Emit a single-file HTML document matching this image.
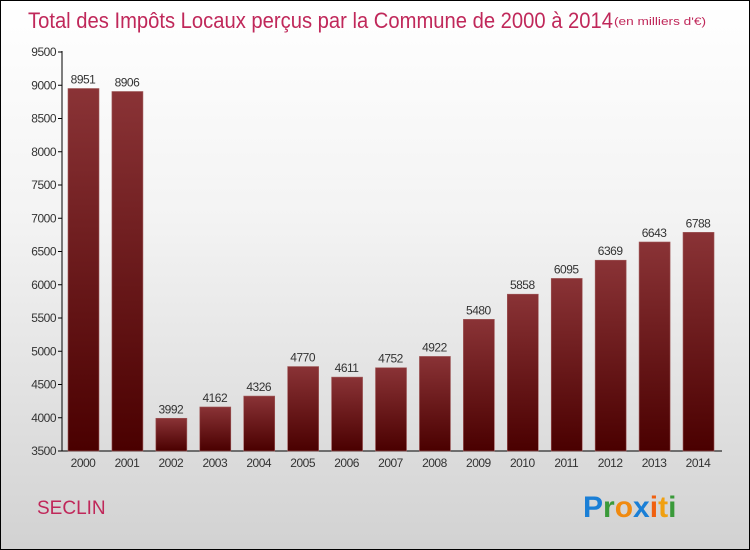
<!DOCTYPE html>
<html><head><meta charset="utf-8"><style>
body{margin:0}
#wrap{position:relative;width:748px;height:548px;border:1px solid #000;background:linear-gradient(#fff,#f3f3f3 40%,#d2d2d2);font-family:"Liberation Sans",sans-serif;overflow:hidden}
</style></head><body>
<div id="wrap">
<svg id="svg" width="748" height="548" style="position:absolute;left:0;top:0">
<text x="27" y="27" font-size="22" fill="#c0285a" textLength="585" lengthAdjust="spacingAndGlyphs">Total des Impôts Locaux perçus par la Commune de 2000 à 2014</text>
<text x="613" y="24" font-size="11" fill="#c0285a" textLength="92" lengthAdjust="spacingAndGlyphs">(en milliers d'€)</text>
<text x="36" y="513" font-size="19" fill="#c0285a">SECLIN</text>
<g font-size="30" font-weight="bold" font-family="'Liberation Sans',sans-serif">
<text x="582" y="516"><tspan fill="#1a7fd6">P</tspan><tspan fill="#3a9a3a">r</tspan><tspan fill="#f08a10">o</tspan><tspan fill="#1a7fd6">x</tspan><tspan fill="#f06010">i</tspan><tspan fill="#f0a010">t</tspan><tspan fill="#3a9a3a">i</tspan></text>
</g>
<defs><linearGradient id="bg" x1="0" y1="0" x2="0" y2="1"><stop offset="0" stop-color="#8a3336"/><stop offset="1" stop-color="#4a0000"/></linearGradient></defs>
<g id="plot"></g>
</svg>
</div>
<script>
const years=["2000","2001","2002","2003","2004","2005","2006","2007","2008","2009","2010","2011","2012","2013","2014"];
const values=[8951,8906,3992,4162,4326,4770,4611,4752,4922,5480,5858,6095,6369,6643,6788];
const ticks=[3500,4000,4500,5000,5500,6000,6500,7000,7500,8000,8500,9000,9500];
const NS="http://www.w3.org/2000/svg";
const g=document.getElementById('plot');
const y=v=>450-(v-3500)*(399/6000);
const x=i=>82+i*43.93;
function el(t,a){const e=document.createElementNS(NS,t);for(const k in a)e.setAttribute(k,a[k]);g.appendChild(e);return e;}
const ax=el('line',{x1:61,y1:50,x2:61,y2:450,stroke:'#000'});


const xa=el('line',{x1:61,y1:450,x2:721,y2:450,stroke:'#000'});


ticks.forEach(t=>{
 const l=el('line',{x1:57,y1:y(t),x2:61,y2:y(t),stroke:'#000'});
 
 
 const tx=el('text',{x:55,y:y(t)+4,'font-size':12,fill:'#333','text-anchor':'end','letter-spacing':'-0.5'});
 tx.textContent=t;
 
 
});
values.forEach((v,i)=>{
 const r=el('rect',{x:x(i)-15,y:y(v),width:31,height:450-y(v),fill:'url(#bg)',stroke:'#a05a5a','stroke-width':0.6});
 
 
 const vl=el('text',{x:x(i),y:y(v)-5,'font-size':12,fill:'#333','text-anchor':'middle','letter-spacing':'-0.5'});
 vl.textContent=v;
 
 
 const xl=el('text',{x:x(i),y:466,'font-size':12,fill:'#333','text-anchor':'middle','letter-spacing':'-0.5'});
 xl.textContent=years[i];
 
 
});
</script>
</body></html>
